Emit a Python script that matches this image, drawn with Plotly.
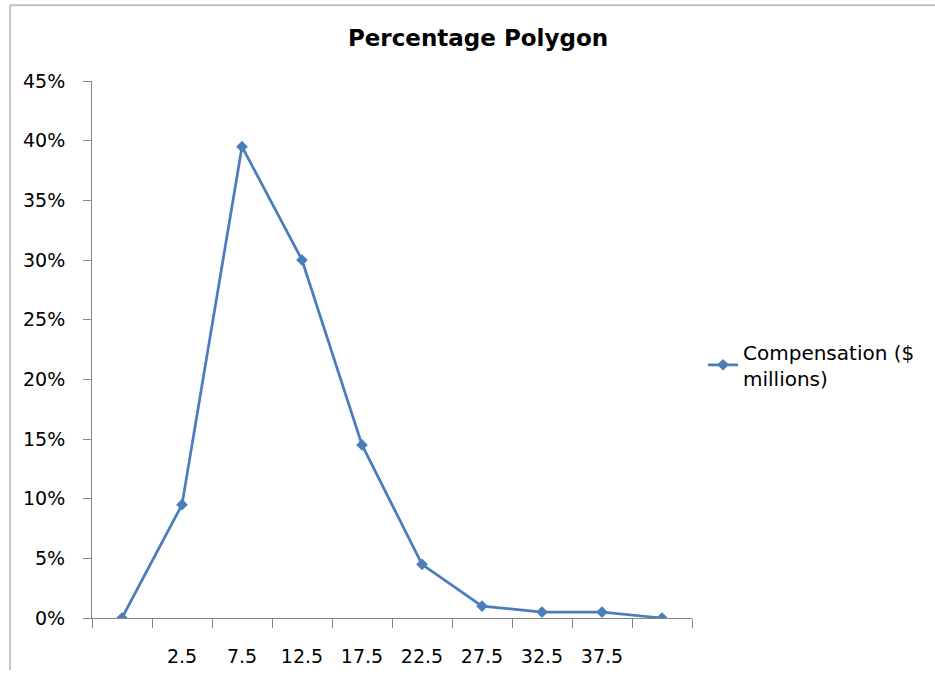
import plotly.graph_objects as go

categories = [" ", "2.5", "7.5", "12.5", "17.5", "22.5", "27.5", "32.5", "37.5", "  "]
percentages = [0.0, 0.095, 0.395, 0.30, 0.145, 0.045, 0.01, 0.005, 0.005, 0.0]
series_name = "Compensation ($<br>millions)"
title_text = "Percentage Polygon"

W, H = 935, 679
ML, MR, MT, MB = 92, 243, 81, 53
pw, ph = W - ML - MR, H - MT - MB

fig = go.Figure()
fig.add_trace(go.Scatter(
    x=categories, y=percentages, mode="lines+markers", name=series_name,
    line=dict(color="#4a7ebb", width=2.75),
    marker=dict(symbol="diamond", size=9, color="#4a7ebb"),
))

font_family = "DejaVu Sans, sans-serif"

def px_x(p):
    return (p - ML) / pw

def px_y(p):
    return (H - MB - p) / ph

fig.update_layout(
    width=W, height=H,
    margin=dict(l=ML, r=MR, t=MT, b=MB, pad=0),
    paper_bgcolor="white", plot_bgcolor="white",
    font=dict(family=font_family, size=19, color="black"),
    title=dict(text="<b>" + title_text + "</b>", x=478 / W, xanchor="center",
               y=1 - 38 / H, yanchor="middle",
               font=dict(size=23, family=font_family, color="black")),
    showlegend=True,
    legend=dict(x=px_x(703), y=px_y(369), xanchor="left", yanchor="middle",
                font=dict(size=20), bgcolor="rgba(0,0,0,0)", itemwidth=30,
                tracegroupgap=0),
    xaxis=dict(type="category", categoryorder="array", categoryarray=categories,
               tickson="boundaries", ticks="outside", ticklen=9, tickcolor="#868686",
               showline=True, linecolor="#868686", linewidth=1, showgrid=False,
               zeroline=False, ticklabelstandoff=21,
               range=[-0.5, len(categories) - 0.5]),
    yaxis=dict(range=[0, 0.45], dtick=0.05, tickformat=".0%", ticks="outside",
               ticklen=8, tickcolor="#868686", showline=True, linecolor="#868686",
               linewidth=1, showgrid=False, zeroline=False, ticklabelstandoff=14),
    shapes=[
        dict(type="line", xref="paper", yref="paper", x0=px_x(10), x1=px_x(10),
             y0=px_y(4), y1=px_y(H), line=dict(color="#8c8c8c", width=1)),
        dict(type="line", xref="paper", yref="paper", x0=px_x(10), x1=px_x(W),
             y0=px_y(4), y1=px_y(4), line=dict(color="#c0c0c0", width=2)),
    ],
)

fig.write_html(
    "out.html", config={"displayModeBar": False},
    post_script="document.body.style.margin='0px';"
                "document.body.style.overflow='hidden';"
                "document.documentElement.style.overflow='hidden';",
)
